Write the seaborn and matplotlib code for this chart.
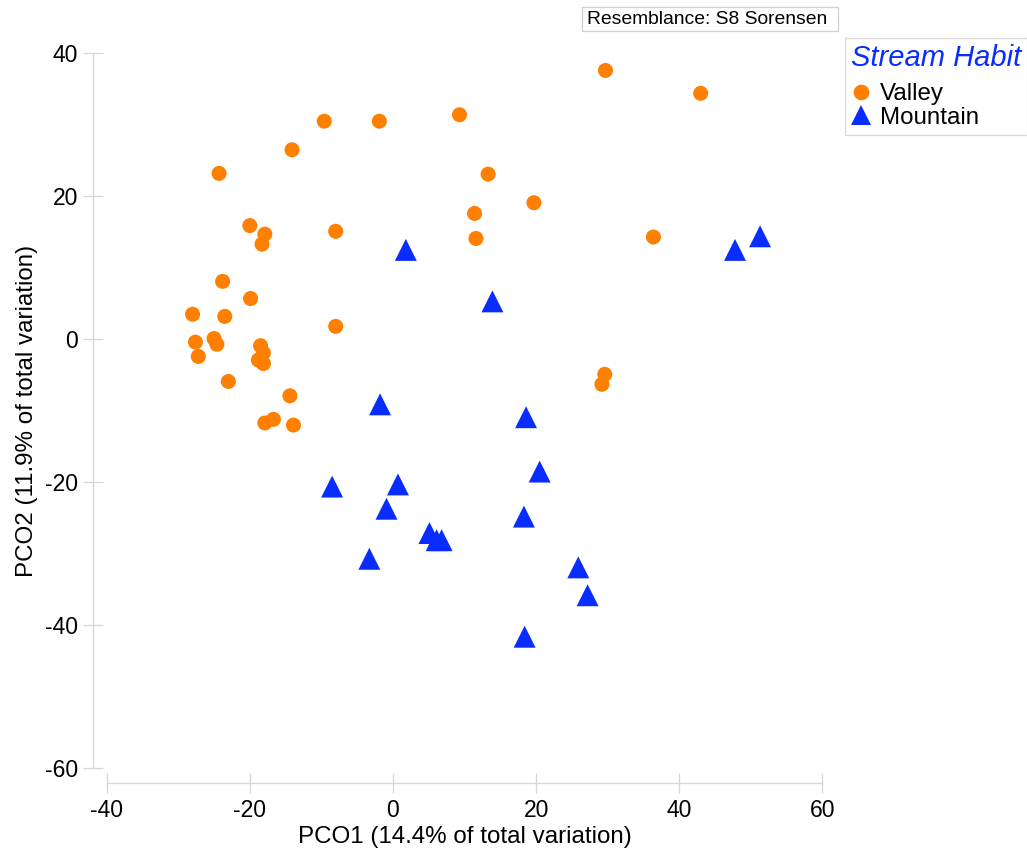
import matplotlib
matplotlib.use("Agg")
import matplotlib.pyplot as plt
from matplotlib.lines import Line2D
from matplotlib.patches import Rectangle
import numpy as np
import pandas as pd
import seaborn as sns

# PCO ordination scores, Valley sites
valley_pco1 = [29.7, 43.0, 9.3, -9.6, -1.9, -14.1, -24.3, 13.3, 19.7, 11.4,
               -20.0, -17.9, -18.3, -8.0, 11.6, 36.4, -23.8, -19.9, -28.0, -23.5,
               -8.0, -27.6, -25.0, -24.6, -27.2, -18.5, -18.1, -18.8, -18.1, -23.0,
               29.6, 29.2, -14.4, -16.7, -17.9, -13.9]
valley_pco2 = [37.6, 34.4, 31.4, 30.5, 30.5, 26.5, 23.2, 23.1, 19.1, 17.6,
               15.9, 14.7, 13.3, 15.1, 14.1, 14.3, 8.1, 5.7, 3.5, 3.2,
               1.8, -0.4, 0.1, -0.7, -2.4, -0.9, -1.9, -2.9, -3.4, -5.9,
               -4.9, -6.3, -7.9, -11.2, -11.7, -12.0]

# PCO ordination scores, Mountain sites
mountain_pco1 = [1.8, 13.9, -1.8, 18.6, 20.5, -8.5, 0.7, -0.9, 5.1, 6.1,
                 6.8, 18.3, -3.3, 25.9, 27.2, 18.4, 47.8, 51.3]
mountain_pco2 = [12.5, 5.3, -9.1, -10.9, -18.5, -20.6, -20.3, -23.7, -27.1, -28.1,
                 -28.1, -24.8, -30.7, -31.9, -35.8, -41.6, 12.5, 14.4]

habits = ["Valley", "Mountain"]
x_ticks = [-40, -20, 0, 20, 40, 60]
y_ticks = [-60, -40, -20, 0, 20, 40]

df = pd.DataFrame({
    "PCO1": valley_pco1 + mountain_pco1,
    "PCO2": valley_pco2 + mountain_pco2,
    "Stream Habit": ["Valley"] * len(valley_pco1) + ["Mountain"] * len(mountain_pco1),
})

ORANGE = "#ff7f00"
BLUE = "#0a2dff"
GREY = "#d6d6d6"

sns.set_theme(style="white")
plt.rcParams["font.family"] = ["Liberation Sans", "DejaVu Sans"]
plt.rcParams["axes.unicode_minus"] = False
plt.rcParams["text.color"] = "black"
plt.rcParams["axes.labelcolor"] = "black"

fig = plt.figure(figsize=(10.27, 8.51), dpi=100)
ax = fig.add_axes([0.1039, 0.0972, 0.6968, 0.8402])

sns.scatterplot(
    data=df, x="PCO1", y="PCO2",
    hue="Stream Habit", style="Stream Habit", size="Stream Habit",
    hue_order=habits, style_order=habits, size_order=habits,
    palette={"Valley": ORANGE, "Mountain": BLUE},
    markers={"Valley": "o", "Mountain": "^"},
    sizes={"Valley": 117, "Mountain": 250},
    linewidth=0, alpha=1, legend=False, clip_on=False, ax=ax,
)

ax.set_xlim(-40, 60)
ax.set_ylim(-60, 40)
ax.set_xticks(x_ticks)
ax.set_yticks(y_ticks)

for side in ["top", "right"]:
    ax.spines[side].set_visible(False)
ax.spines["left"].set_position(("outward", 10))
ax.spines["bottom"].set_position(("outward", 10.4))
ax.spines["left"].set_bounds(-60, 40)
ax.spines["bottom"].set_bounds(-40, 60)
for side in ["left", "bottom"]:
    ax.spines[side].set_color(GREY)
    ax.spines[side].set_linewidth(0.9)

ax.tick_params(axis="both", direction="inout", length=13.7, width=0.9,
               color=GREY, labelsize=16.5, labelcolor="black",
               bottom=True, left=True)
ax.tick_params(axis="y", pad=3.6)
ax.tick_params(axis="x", pad=4.8)

ax.set_xlabel("PCO1 (14.4% of total variation)", fontsize=17.4, labelpad=3, color="black")
ax.set_ylabel("PCO2 (11.9% of total variation)", fontsize=17.4, labelpad=5, color="black")

# resemblance measure note
fig.patches.append(Rectangle((582 / 1027, 1 - 31 / 851), 256 / 1027, 24 / 851,
                             transform=fig.transFigure, facecolor="white",
                             edgecolor="#cfcfcf", linewidth=0.9))
fig.text(587 / 1027, 1 - 19 / 851, "Resemblance: S8 Sorensen",
         fontsize=13.9, ha="left", va="center", color="black")

# legend
handles = [
    Line2D([], [], linestyle="none", marker="o", markersize=11.3,
           markerfacecolor=ORANGE, markeredgewidth=0),
    Line2D([], [], linestyle="none", marker="^", markersize=14.5,
           markerfacecolor=BLUE, markeredgewidth=0),
]
leg = ax.legend(handles, habits, title="Stream Habit",
                loc="upper left", bbox_to_anchor=(845 / 1027, 1 - 38 / 851),
                bbox_transform=fig.transFigure, fontsize=17.4,
                frameon=True, fancybox=False, edgecolor="#cfcfcf",
                borderpad=0.25, handlelength=0.85, handletextpad=0.35,
                labelspacing=0.06, alignment="left", borderaxespad=0)
leg.get_frame().set_linewidth(0.9)
leg.get_title().set_fontsize(21)
leg.get_title().set_fontstyle("italic")
leg.get_title().set_color(BLUE)
for t in leg.get_texts():
    t.set_color("black")
leg._legend_box.sep = 8

fig.savefig("out.png", dpi=100, facecolor="white")
